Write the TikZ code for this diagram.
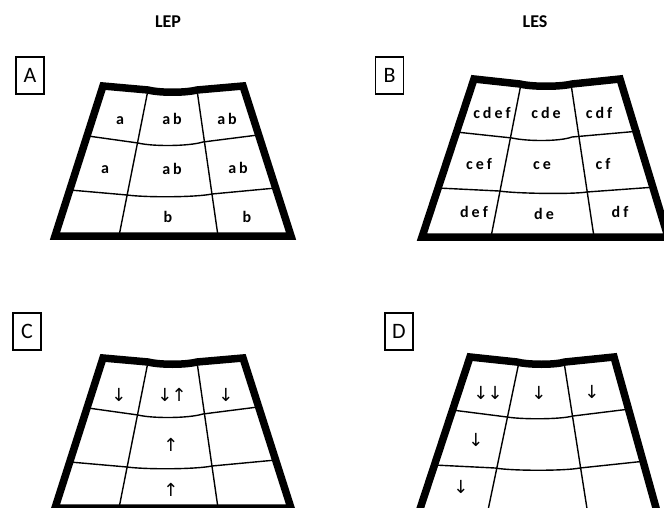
\documentclass[tikz,border=0pt]{standalone}
\usepackage{fontspec}
\setmainfont{Carlito}
\newfontfamily\arrowfont{DejaVu Sans}
\newcommand\gapk{\kern3pt}
\begin{document}
\begin{tikzpicture}[x=1pt,y=-1pt,
  outer/.style={line width=7.5pt, line join=miter, miter limit=6},
  gridline/.style={line width=1.4pt, line join=round},
  tag/.style={draw, line width=1.1pt, minimum width=28pt, minimum height=37pt, inner sep=0pt, font=\fontsize{22}{22}\selectfont},
  title/.style={inner sep=0pt, font=\bfseries\fontsize{18}{18}\selectfont},
  lbl/.style={anchor=base, inner sep=0pt, font=\bfseries\fontsize{16}{16}\selectfont},
  arr/.style={inner sep=0pt, font=\arrowfont\fontsize{18}{18}\selectfont}]
\useasboundingbox (0,0) rectangle (664,508);
\clip (0,0) rectangle (664,508);
\fill[white] (0,0) rectangle (664,508);

% titles
\node[title] (tLEP) at (168,22) {LEP};
\node[title] (tLES) at (535,22) {LES};

% tags
\node[tag] (tagA) at (30,75.5) {A};
\node[tag] (tagB) at (389.5,75.5) {B};
\node[tag] (tagC) at (27,331.5) {C};
\node[tag] (tagD) at (399,331.5) {D};

% ---------- Panel A and C (same geometry) ----------
\foreach \dy in {0,272}{
\begin{scope}[shift={(0,\dy)}]
  \draw[gridline] (148,90) -- (119,236);
  \draw[gridline] (197,90) -- (218,236);
  \draw[gridline] (88,136) -- (138,143) .. controls (152,146.5) and (188,146.5) .. (203,142) -- (258,135);
  \draw[gridline] (70,190) -- (127,195) .. controls (145,197.5) and (195,197.5) .. (212,194) -- (276,188);
  \draw[outer] (103,86) -- (148,90) .. controls (160,93) and (185,93) .. (197,90) -- (243,86)
     -- (291,236) -- (55,236) -- cycle;
\end{scope}
}

% labels A
\node[lbl] (a11) at (120,125) {a};
\node[lbl] (a12) at (172,125) {a\gapk b};
\node[lbl] (a13) at (227,125) {a\gapk b};
\node[lbl] (a21) at (105,173) {a};
\node[lbl] (a22) at (172,175) {a\gapk b};
\node[lbl] (a23) at (238,173) {a\gapk b};
\node[lbl] (a32) at (168,222) {b};
\node[lbl] (a33) at (247,222) {b};

% arrows C
\node[arr] (c11) at (119,395) {↓};
\node[arr] (c12) at (172,395) {↓\kern-1pt↑};
\node[arr] (c13) at (226,395) {↓};
\node[arr] (c22) at (171,445) {↑};
\node[arr] (c32) at (171,490) {↑};

% ---------- Panel B ----------
\draw[gridline] (521,84) -- (491,237);
\draw[gridline] (571,84) -- (594,237);
\draw[gridline] (456,132) -- (512,138) .. controls (528,141.5) and (560,141.5) .. (572,137) -- (640,131);
\draw[gridline] (438,188) -- (499,191) .. controls (515,193.5) and (572,194.5) .. (587,192) -- (656,187);
\draw[outer] (474,79) -- (520,84) .. controls (532,87) and (560,87) .. (572,84) -- (620,79)
   -- (668,237) -- (422,237) -- cycle;

\node[lbl] (b11) at (492,119) {c\gapk d\gapk e\gapk f};
\node[lbl] (b12) at (546,119) {c\gapk d\gapk e};
\node[lbl] (b13) at (599,119) {c\gapk d\gapk f};
\node[lbl] (b21) at (479,169) {c\gapk e\gapk f};
\node[lbl] (b22) at (542,170) {c\gapk e};
\node[lbl] (b23) at (603,169) {c\gapk f};
\node[lbl] (b31) at (474,217) {d\gapk e\gapk f};
\node[lbl] (b32) at (544,219) {d\gapk e};
\node[lbl] (b33) at (620,217) {d\gapk f};

% ---------- Panel D ----------
\draw[gridline] (519,362) -- (487,515);
\draw[gridline] (564,362) -- (588,515);
\draw[gridline] (452,410) -- (507,417) .. controls (522,419.5) and (560,419.5) .. (573,416) -- (630,409);
\draw[gridline] (434,465) -- (495,468) .. controls (512,471) and (565,471) .. (580,468) -- (646,461);
\draw[outer] (470,357) -- (517,362) .. controls (528,365) and (555,365) .. (565,362) -- (614,357)
   -- (658,515) -- (418,515) -- cycle;

\node[arr] (d11) at (488,393) {↓\kern-1pt↓};
\node[arr] (d12) at (539,393) {↓};
\node[arr] (d13) at (592,392) {↓};
\node[arr] (d21) at (476,440) {↓};
\node[arr] (d31) at (461,487) {↓};
\end{tikzpicture}
\end{document}
